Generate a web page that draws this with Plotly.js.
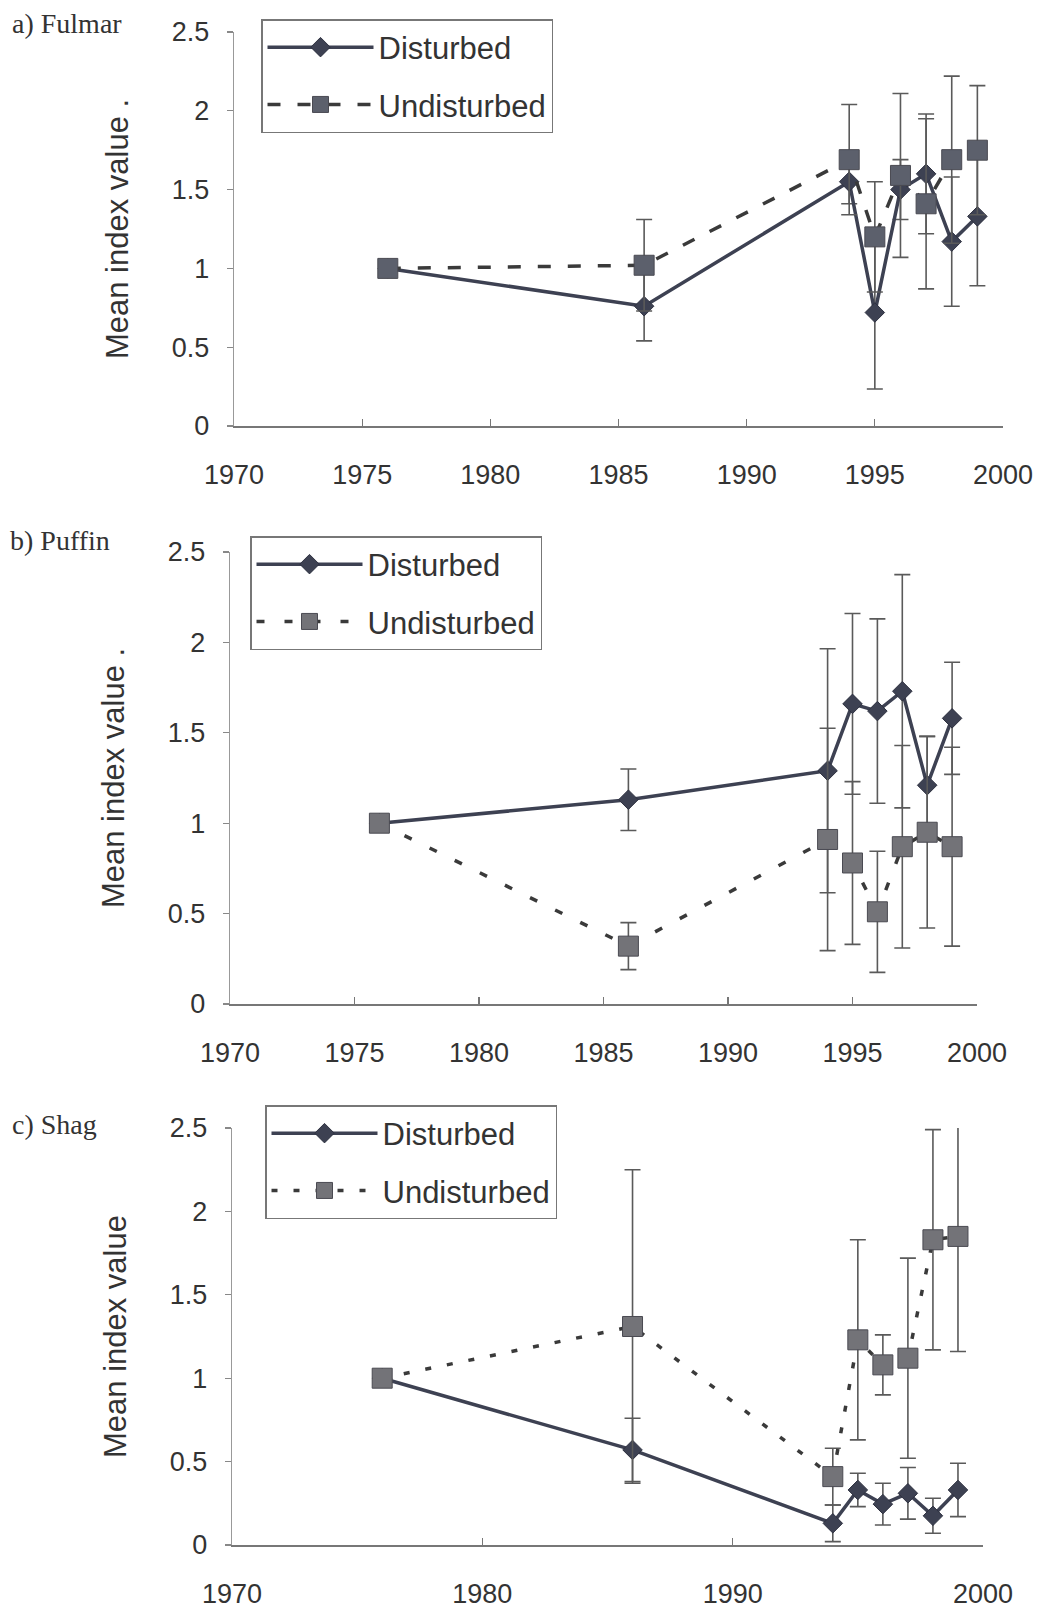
<!DOCTYPE html>
<html>
<head>
<meta charset="utf-8">
<script src="https://cdn.plot.ly/plotly-3.0.1.min.js"></script>
<style>
  html, body { margin: 0; padding: 0; background: #ffffff; }
  #chart { width: 1041px; height: 1610px; }
</style>
</head>
<body>
<div id="chart"></div>
<script>
// ---- Data ----
const years = [1976, 1986, 1994, 1995, 1996, 1997, 1998, 1999];

const fulmarDisturbed      = [1.00, 0.76, 1.55, 0.72, 1.50, 1.60, 1.17, 1.33];
const fulmarDisturbedErr   = [0, 0.22, 0.14, 0.485, 0.19, 0.38, 0.41, 0.44];
const fulmarUndisturbed    = [1.00, 1.02, 1.69, 1.20, 1.59, 1.41, 1.69, 1.75];
const fulmarUndisturbedErr = [0, 0.29, 0.35, 0.35, 0.52, 0.54, 0.53, 0.41];

const puffinDisturbed      = [1.00, 1.13, 1.29, 1.66, 1.62, 1.73, 1.21, 1.58];
const puffinDisturbedErr   = [0, 0.17, 0.675, 0.50, 0.51, 0.645, 0.27, 0.31];
const puffinUndisturbed    = [1.00, 0.32, 0.91, 0.78, 0.51, 0.87, 0.95, 0.87];
const puffinUndisturbedErr = [0, 0.13, 0.615, 0.45, 0.335, 0.56, 0.53, 0.55];

const shagDisturbed        = [1.00, 0.57, 0.13, 0.33, 0.245, 0.31, 0.175, 0.33];
const shagDisturbedErr     = [0, 0.19, 0.11, 0.10, 0.125, 0.155, 0.105, 0.16];
const shagUndisturbed      = [1.00, 1.31, 0.41, 1.23, 1.08, 1.12, 1.83, 1.85];
const shagUndisturbedErr   = [0, 0.94, 0.17, 0.60, 0.18, 0.60, 0.66, 0.69];

const seriesNames = ["Disturbed", "Undisturbed"];
const panelLabels = ["a) Fulmar", "b) Puffin", "c) Shag"];
const yTitles = ["Mean index value .", "Mean index value .", "Mean index value"];

// ---- Styling ----
const W = 1041, H = 1610;
const sans = "Liberation Sans, Arial, sans-serif";
const serif = "Liberation Serif, Times New Roman, serif";
const darkLine = "#3d4152";
const errColor = "#5a5a5a";

function distTrace(y, err, xa, ya, lg, grp) {
  return {
    x: years, y: y, name: seriesNames[0], type: "scatter", mode: "lines+markers",
    xaxis: xa, yaxis: ya, legend: lg, legendgroup: grp + "d",
    line: { color: darkLine, width: 3.5 },
    marker: { symbol: "diamond", size: 15, color: darkLine, line: { color: "#2e3140", width: 1 } },
    error_y: { type: "data", array: err, symmetric: true, visible: true, color: errColor, thickness: 1.6, width: 8 },
    cliponaxis: false
  };
}
function undTrace(y, err, xa, ya, lg, grp, dash, sqColor) {
  return {
    x: years, y: y, name: seriesNames[1], type: "scatter", mode: "lines+markers",
    xaxis: xa, yaxis: ya, legend: lg, legendgroup: grp + "u",
    line: { color: "#3a3a3a", width: 3.5, dash: dash },
    marker: { symbol: "square", size: 20, color: sqColor, line: { color: "#4a4a52", width: 1 } },
    error_y: { type: "data", array: err, symmetric: true, visible: true, color: errColor, thickness: 1.6, width: 8 },
    cliponaxis: false
  };
}

const data = [
  distTrace(fulmarDisturbed, fulmarDisturbedErr, "x", "y", "legend", "a"),
  undTrace(fulmarUndisturbed, fulmarUndisturbedErr, "x", "y", "legend", "a", "13px,17px", "#5c606c"),
  distTrace(puffinDisturbed, puffinDisturbedErr, "x2", "y2", "legend2", "b"),
  undTrace(puffinUndisturbed, puffinUndisturbedErr, "x2", "y2", "legend2", "b", "8px,20px", "#737378"),
  distTrace(shagDisturbed, shagDisturbedErr, "x3", "y3", "legend3", "c"),
  undTrace(shagUndisturbed, shagUndisturbedErr, "x3", "y3", "legend3", "c", "6px,16px", "#737378")
];

// pixel boxes for each panel: [left, right, top(2.5), bottom(0)]
const boxes = [
  [234, 1003, 32, 426],
  [230, 977, 552, 1004],
  [232, 983, 1128, 1545]
];
const legendPos = [[261, 19], [250, 536], [265, 1105]];
const labelPos = [[10, 24], [8, 540], [10, 1124]];
const xDticks = [5, 5, 10];

function xAxis(i) {
  const b = boxes[i];
  const ax = {
    domain: [b[0] / W, b[1] / W], range: [1970, 2000], dtick: xDticks[i], tick0: 1970,
    showgrid: false, zeroline: false, showline: true, linecolor: "#777", linewidth: 1.5,
    ticks: "inside", ticklen: 7, tickcolor: "#777", tickwidth: 1.2,
    ticklabelstandoff: 24,
    tickfont: { family: sans, size: 27, color: "#333" },
    anchor: i === 0 ? "y" : "y" + (i + 1), fixedrange: true
  };
  return ax;
}
function yAxis(i) {
  const b = boxes[i];
  return {
    domain: [1 - b[3] / H, 1 - b[2] / H], range: [0, 2.5], dtick: 0.5, tick0: 0,
    showgrid: false, zeroline: false, showline: true, linecolor: "#999", linewidth: 1.2,
    ticks: "outside", ticklen: 6, tickcolor: "#888", tickwidth: 1.2,
    ticklabelstandoff: 12,
    tickfont: { family: sans, size: 27, color: "#333" },
    title: { text: yTitles[i], font: { family: sans, size: 31, color: "#333" }, standoff: 34 },
    anchor: i === 0 ? "x" : "x" + (i + 1), fixedrange: true
  };
}
function legendCfg(i) {
  return {
    x: legendPos[i][0] / W, y: 1 - legendPos[i][1] / H, xanchor: "left", yanchor: "top",
    bgcolor: "#ffffff", bordercolor: "#777", borderwidth: 1.5,
    font: { family: sans, size: 31, color: "#333" },
    tracegroupgap: 14, itemwidth: 106, traceorder: "grouped"
  };
}

const layout = {
  width: W, height: H,
  margin: { l: 0, r: 0, t: 0, b: 0 },
  paper_bgcolor: "#ffffff", plot_bgcolor: "#ffffff",
  showlegend: true,
  xaxis: xAxis(0), yaxis: yAxis(0),
  xaxis2: xAxis(1), yaxis2: yAxis(1),
  xaxis3: xAxis(2), yaxis3: yAxis(2),
  legend: legendCfg(0), legend2: legendCfg(1), legend3: legendCfg(2),
  annotations: panelLabels.map((t, i) => ({
    text: t, xref: "paper", yref: "paper",
    x: labelPos[i][0] / W, y: 1 - labelPos[i][1] / H,
    xanchor: "left", yanchor: "middle", showarrow: false,
    font: { family: serif, size: 28, color: "#333" }
  }))
};

Plotly.newPlot("chart", data, layout, { staticPlot: true, displayModeBar: false });
</script>
</body>
</html>
